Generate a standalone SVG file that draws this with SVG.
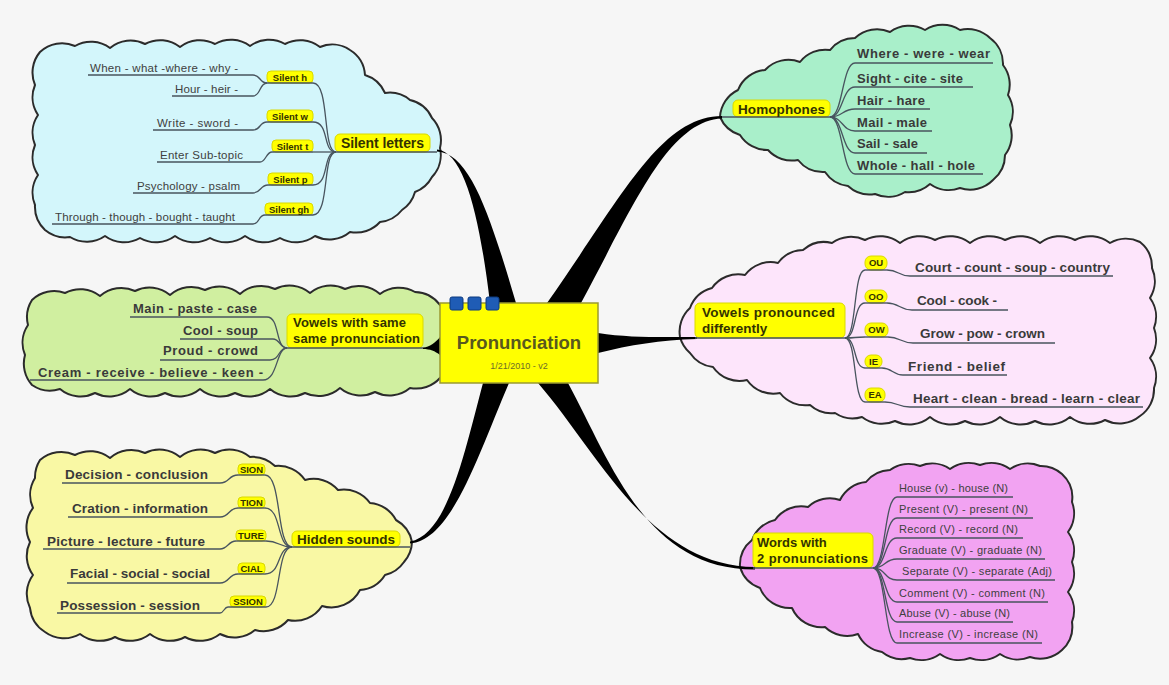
<svg xmlns="http://www.w3.org/2000/svg" width="1169" height="685" viewBox="0 0 1169 685">
<style>
text{font-family:"Liberation Sans",Arial,sans-serif}
.cloud{stroke:#2b2b2b;stroke-width:2;stroke-linejoin:round}
.wedge{fill:#000}
.cn{fill:none;stroke:#48545e;stroke-width:1.3}
.ul{fill:none;stroke:#48545e;stroke-width:1.4}
.hl{fill:#ffff00;stroke:#d9d900;stroke-width:1}
.ht{fill:#333300;font-weight:bold}
.sub{fill:#333300;font-weight:bold;font-size:9.5px;text-anchor:middle}
.lf{fill:#404040}
.lb{fill:#3a3a3a;font-weight:bold}
</style>
<rect x="0" y="0" width="1169" height="685" fill="#f6f6f6"/>

<g id="clouds">
<path id="cloud-silent" class="cloud" fill="#d3f6fb" d="M40,52 A32,32 0 0 1 75,46 A32,32 0 0 1 110,48 A32,32 0 0 1 145,44 A32,32 0 0 1 180,47 A32,32 0 0 1 215,44 A32,32 0 0 1 250,46 A32,32 0 0 1 285,44 A32,32 0 0 1 320,47 A32,32 0 0 1 350,50 A32,32 0 0 1 365,75 A32,32 0 0 1 385,93 A32,32 0 0 1 410,100 A32,32 0 0 1 432,118 A32,32 0 0 1 440,148 A32,32 0 0 1 432,177 A32,32 0 0 1 415,192 A32,32 0 0 1 402,210 A32,32 0 0 1 380,222 A32,32 0 0 1 350,232 A32,32 0 0 1 315,236 A32,32 0 0 1 280,238 A32,32 0 0 1 245,236 A32,32 0 0 1 210,238 A32,32 0 0 1 175,236 A32,32 0 0 1 140,238 A32,32 0 0 1 105,236 A32,32 0 0 1 70,237 A32,32 0 0 1 45,230 A32,32 0 0 1 35,205 A32,32 0 0 1 38,175 A32,32 0 0 1 35,145 A32,32 0 0 1 38,115 A32,32 0 0 1 35,85 A32,32 0 0 1 40,52 Z"/>
<path id="cloud-homophones" class="cloud" fill="#a9efca" d="M720,117 A32,32 0 0 1 738,90 A32,32 0 0 1 765,70 A32,32 0 0 1 800,62 A32,32 0 0 1 830,50 A32,32 0 0 1 855,38 A32,32 0 0 1 890,32 A32,32 0 0 1 925,30 A32,32 0 0 1 960,30 A32,32 0 0 1 990,38 A32,32 0 0 1 1003,65 A32,32 0 0 1 1008,95 A32,32 0 0 1 1010,125 A32,32 0 0 1 1005,155 A32,32 0 0 1 993,180 A32,32 0 0 1 960,188 A32,32 0 0 1 930,184 A32,32 0 0 1 905,192 A32,32 0 0 1 875,194 A32,32 0 0 1 848,186 A32,32 0 0 1 825,172 A32,32 0 0 1 798,160 A32,32 0 0 1 768,150 A32,32 0 0 1 740,135 A32,32 0 0 1 720,117 Z"/>
<path id="cloud-vowels-same" class="cloud" fill="#d0efa0" d="M32,300 A32,32 0 0 1 65,293 A32,32 0 0 1 100,296 A32,32 0 0 1 135,291 A32,32 0 0 1 170,295 A32,32 0 0 1 205,290 A32,32 0 0 1 240,294 A32,32 0 0 1 275,289 A32,32 0 0 1 310,293 A32,32 0 0 1 345,289 A32,32 0 0 1 380,294 A32,32 0 0 1 415,292 A32,32 0 0 1 440,305 A32,32 0 0 1 450,340 A32,32 0 0 1 440,378 A32,32 0 0 1 410,388 A32,32 0 0 1 375,392 A32,32 0 0 1 340,388 A32,32 0 0 1 305,393 A32,32 0 0 1 270,389 A32,32 0 0 1 235,393 A32,32 0 0 1 200,389 A32,32 0 0 1 165,393 A32,32 0 0 1 130,389 A32,32 0 0 1 95,393 A32,32 0 0 1 60,389 A32,32 0 0 1 32,385 A32,32 0 0 1 25,355 A32,32 0 0 1 28,325 A32,32 0 0 1 32,300 Z"/>
<path id="cloud-hidden" class="cloud" fill="#f9f8a4" d="M40,460 A32,32 0 0 1 75,455 A32,32 0 0 1 110,458 A32,32 0 0 1 145,453 A32,32 0 0 1 180,457 A32,32 0 0 1 215,453 A32,32 0 0 1 250,457 A32,32 0 0 1 275,466 A32,32 0 0 1 305,480 A32,32 0 0 1 338,490 A32,32 0 0 1 370,503 A32,32 0 0 1 396,520 A32,32 0 0 1 412,542 A32,32 0 0 1 404,562 A32,32 0 0 1 385,575 A32,32 0 0 1 360,590 A32,32 0 0 1 322,606 A32,32 0 0 1 288,620 A32,32 0 0 1 255,630 A32,32 0 0 1 220,634 A32,32 0 0 1 185,637 A32,32 0 0 1 150,634 A32,32 0 0 1 115,637 A32,32 0 0 1 80,634 A32,32 0 0 1 45,632 A32,32 0 0 1 30,608 A32,32 0 0 1 33,575 A32,32 0 0 1 30,542 A32,32 0 0 1 33,508 A32,32 0 0 1 35,478 A32,32 0 0 1 40,460 Z"/>
<path id="cloud-vowels-diff" class="cloud" fill="#fde5fb" d="M680,337 A32,32 0 0 1 690,308 A32,32 0 0 1 712,288 A32,32 0 0 1 745,275 A32,32 0 0 1 778,263 A32,32 0 0 1 803,250 A32,32 0 0 1 832,243 A32,32 0 0 1 865,240 A32,32 0 0 1 900,243 A32,32 0 0 1 935,240 A32,32 0 0 1 970,243 A32,32 0 0 1 1005,240 A32,32 0 0 1 1040,243 A32,32 0 0 1 1075,240 A32,32 0 0 1 1110,243 A32,32 0 0 1 1140,242 A32,32 0 0 1 1152,268 A32,32 0 0 1 1150,298 A32,32 0 0 1 1154,328 A32,32 0 0 1 1150,358 A32,32 0 0 1 1154,388 A32,32 0 0 1 1140,416 A32,32 0 0 1 1105,420 A32,32 0 0 1 1070,417 A32,32 0 0 1 1035,421 A32,32 0 0 1 1000,417 A32,32 0 0 1 965,421 A32,32 0 0 1 930,417 A32,32 0 0 1 895,421 A32,32 0 0 1 862,417 A32,32 0 0 1 835,413 A32,32 0 0 1 810,405 A32,32 0 0 1 780,393 A32,32 0 0 1 747,380 A32,32 0 0 1 713,367 A32,32 0 0 1 690,353 A32,32 0 0 1 680,337 Z"/>
<path id="cloud-words" class="cloud" fill="#f2a3f2" d="M740,567 A32,32 0 0 1 752,540 A32,32 0 0 1 775,520 A32,32 0 0 1 808,507 A32,32 0 0 1 840,500 A32,32 0 0 1 866,482 A32,32 0 0 1 890,470 A32,32 0 0 1 920,466 A32,32 0 0 1 950,469 A32,32 0 0 1 980,465 A32,32 0 0 1 1010,469 A32,32 0 0 1 1040,466 A32,32 0 0 1 1062,474 A32,32 0 0 1 1072,502 A32,32 0 0 1 1068,532 A32,32 0 0 1 1072,562 A32,32 0 0 1 1068,592 A32,32 0 0 1 1072,622 A32,32 0 0 1 1062,650 A32,32 0 0 1 1030,657 A32,32 0 0 1 1000,654 A32,32 0 0 1 970,658 A32,32 0 0 1 940,654 A32,32 0 0 1 910,658 A32,32 0 0 1 882,652 A32,32 0 0 1 858,634 A32,32 0 0 1 825,627 A32,32 0 0 1 792,608 A32,32 0 0 1 760,588 A32,32 0 0 1 740,567 Z"/>
</g>

<g id="connectors">
<path class="wedge" d="M437,149.5 C465,152 480,220 490,303 L516,303 C490,215 470,153 437,151.5 Z"/>
<path class="wedge" d="M547,303 C620,200 660,116 722,116 L722,118.5 C668,121 634,205 581,303 Z"/>
<path class="wedge" d="M598,333 C630,338 660,337 697,337 L697,339 C660,340 630,345 598,353 Z"/>
<path class="wedge" d="M483,383 C465,450 448,535 410,541.5 L410,543.5 C452,540 478,455 509,383 Z"/>
<path class="wedge" d="M538,383 C600,455 650,566 755,567 L755,569.5 C645,570 610,460 568,383 Z"/>
<path class="wedge" d="M440,337 C435,343 430,347 423,347.5 L423,349 C430,349 435,351 440,355 Z"/>
<g class="cn">
<path d="M313,83 C330,83 322,152 336,152"/>
<path d="M313,122 C330,122 322,152 336,152"/>
<path d="M313,152 L336,152"/>
<path d="M313,185 C330,185 322,152 336,152"/>
<path d="M313,215 C330,215 322,152 336,152"/>
<path d="M253,75 C261,75 259,83 267,83"/>
<path d="M253,96 C261,96 259,83 267,83"/>
<path d="M253,130 C261,130 259,122 267,122"/>
<path d="M260,162 C266,162 266,152 272,152"/>
<path d="M253,193 C261,193 260,185 268,185"/>
<path d="M253,224 C260,224 258,215 265,215"/>
<path d="M830,117 C843,117 842,63 855,63"/>
<path d="M830,117 C843,117 842,87 855,87"/>
<path d="M830,117 C843,117 842,109 855,109"/>
<path d="M830,117 C843,117 842,131 855,131"/>
<path d="M830,117 C843,117 842,153 855,153"/>
<path d="M830,117 C843,117 842,174 855,174"/>
<path d="M267,317 C280,317 275,348 287,348"/>
<path d="M273,339 C280,339 280,348 287,348"/>
<path d="M270,360 C280,360 278,348 287,348"/>
<path d="M263,380 C278,380 276,348 287,348"/>
<path d="M265,475 C282,475 276,547 292,547"/>
<path d="M265,508 C282,508 276,547 292,547"/>
<path d="M266,541 C280,541 278,547 292,547"/>
<path d="M265,574 C282,574 276,547 292,547"/>
<path d="M266,607 C282,607 276,547 292,547"/>
<path d="M220,483 C230,483 228,475 238,475"/>
<path d="M220,517 C230,517 228,508 238,508"/>
<path d="M220,549 C228,549 228,541 236,541"/>
<path d="M220,583 C230,583 228,574 238,574"/>
<path d="M220,613 C224,613 224,607 228,607"/>
<path d="M845,338 C857,338 853,270 865,270"/>
<path d="M845,338 C857,338 853,303 865,303"/>
<path d="M845,338 C857,338 853,337 865,337"/>
<path d="M845,338 C857,338 853,368 865,368"/>
<path d="M845,338 C857,338 853,402 865,402"/>
<path d="M887,270 C899,270 898,276 910,276"/>
<path d="M887,303 C899,303 900,310 912,310"/>
<path d="M888,337 C900,337 901,343 913,343"/>
<path d="M882,368 C892,368 893,375 903,375"/>
<path d="M885,402 C897,402 898,407 910,407"/>
<path d="M873,568 C886,568 884,497 897,497"/>
<path d="M873,568 C886,568 884,518 897,518"/>
<path d="M873,568 C886,568 884,538 897,538"/>
<path d="M873,568 C886,568 884,559 897,559"/>
<path d="M873,568 C886,568 884,580 897,580"/>
<path d="M873,568 C886,568 884,602 897,602"/>
<path d="M873,568 C886,568 884,622 897,622"/>
<path d="M873,568 C886,568 884,643 897,643"/>
</g>
</g>

<g id="node-silent-letters">
<rect class="hl" x="335" y="134" width="95" height="18" rx="5"/>
<path class="ul" d="M335,152 H437"/>
<text class="ht" x="382.5" y="148" font-size="14" text-anchor="middle" textLength="83">Silent letters</text>
</g>
<g id="node-silent-h">
<rect class="hl" x="267" y="71" width="46" height="12" rx="4"/><path class="ul" d="M267,83 H313"/>
<text class="sub" x="290" y="80.5">Silent h</text>
</g>
<g id="node-silent-w">
<rect class="hl" x="267" y="110" width="46" height="12" rx="4"/><path class="ul" d="M267,122 H313"/>
<text class="sub" x="290" y="119.5">Silent w</text>
</g>
<g id="node-silent-t">
<rect class="hl" x="272" y="140" width="41" height="12" rx="4"/><path class="ul" d="M272,152 H313"/>
<text class="sub" x="292.5" y="149.5">Silent t</text>
</g>
<g id="node-silent-p">
<rect class="hl" x="268" y="173" width="45" height="12" rx="4"/><path class="ul" d="M268,185 H313"/>
<text class="sub" x="290.5" y="182.5">Silent p</text>
</g>
<g id="node-silent-gh">
<rect class="hl" x="265" y="203" width="48" height="12" rx="4"/><path class="ul" d="M265,215 H313"/>
<text class="sub" x="289" y="212.5">Silent gh</text>
</g>
<g id="leaves-silent">
<path class="ul" d="M88,75 H253 M172,96 H253 M153,130 H253 M157,162 H260 M133,193 H253 M52,224 H253"/>
<text class="lf" font-size="11.5" x="90" y="72" textLength="148">When - what -where - why -</text>
<text class="lf" font-size="11.5" x="175" y="93" textLength="63">Hour - heir -</text>
<text class="lf" font-size="11.5" x="157" y="127" textLength="81">Write - sword -</text>
<text class="lf" font-size="11.5" x="160" y="159" textLength="83">Enter Sub-topic</text>
<text class="lf" font-size="11.5" x="137" y="190" textLength="103">Psychology - psalm</text>
<text class="lf" font-size="11.5" x="55" y="221" textLength="180">Through - though - bought - taught</text>
</g>

<g id="node-homophones">
<rect class="hl" x="733" y="100" width="97" height="17" rx="5"/>
<path class="ul" d="M722,117 H830"/>
<text class="ht" x="781.5" y="113.5" font-size="13.5" text-anchor="middle" textLength="87">Homophones</text>
</g>
<g id="leaves-homophones">
<path class="ul" d="M855,63 H993 M855,87 H973 M855,109 H930 M855,131 H932 M855,153 H927 M855,174 H983"/>
<text class="lb" font-size="13" x="857" y="58" textLength="133">Where - were - wear</text>
<text class="lb" font-size="13" x="857" y="83" textLength="106">Sight - cite - site</text>
<text class="lb" font-size="13" x="857" y="105" textLength="68">Hair - hare</text>
<text class="lb" font-size="13" x="857" y="127" textLength="70">Mail - male</text>
<text class="lb" font-size="13" x="857" y="148" textLength="61">Sail - sale</text>
<text class="lb" font-size="13" x="857" y="170" textLength="118">Whole - hall - hole</text>
</g>

<g id="node-vowels-same">
<rect class="hl" x="287" y="314" width="136" height="34" rx="5"/>
<path class="ul" d="M287,348 H423"/>
<text class="ht" x="293" y="327" font-size="13" textLength="113">Vowels with same</text>
<text class="ht" x="293" y="343" font-size="13" textLength="127">same pronunciation</text>
</g>
<g id="leaves-vowels-same">
<path class="ul" d="M130,317 H267 M180,339 H273 M160,360 H270 M30,380 H263"/>
<text class="lb" font-size="13" x="133" y="313" textLength="124">Main - paste - case</text>
<text class="lb" font-size="13" x="183" y="335" textLength="75">Cool - soup</text>
<text class="lb" font-size="13" x="163" y="355" textLength="95">Proud - crowd</text>
<text class="lb" font-size="13" x="38" y="377" textLength="225">Cream - receive - believe - keen -</text>
</g>

<g id="node-hidden-sounds">
<rect class="hl" x="292" y="531" width="108" height="16" rx="5"/>
<path class="ul" d="M292,547 H410"/>
<text class="ht" x="346" y="544" font-size="13.5" text-anchor="middle" textLength="98">Hidden sounds</text>
</g>
<g id="node-sion"><rect class="hl" x="238" y="464" width="27" height="11" rx="4"/><path class="ul" d="M238,475 H265"/><text class="sub" font-size="9" x="251.5" y="472.5">SION</text></g>
<g id="node-tion"><rect class="hl" x="238" y="497" width="27" height="11" rx="4"/><path class="ul" d="M238,508 H265"/><text class="sub" font-size="9" x="251.5" y="505.5">TION</text></g>
<g id="node-ture"><rect class="hl" x="236" y="530" width="30" height="11" rx="4"/><path class="ul" d="M236,541 H266"/><text class="sub" font-size="9" x="251" y="538.5">TURE</text></g>
<g id="node-cial"><rect class="hl" x="238" y="563" width="27" height="11" rx="4"/><path class="ul" d="M238,574 H265"/><text class="sub" font-size="9" x="251.5" y="571.5">CIAL</text></g>
<g id="node-ssion"><rect class="hl" x="230" y="596" width="36" height="11" rx="4"/><path class="ul" d="M228,607 H266"/><text class="sub" font-size="9" x="248" y="604.5">SSION</text></g>
<g id="leaves-hidden">
<path class="ul" d="M62,483 H220 M68,517 H220 M43,549 H220 M67,583 H220 M57,613 H220"/>
<text class="lb" font-size="13.5" x="65" y="479" textLength="143">Decision - conclusion</text>
<text class="lb" font-size="13.5" x="72" y="513" textLength="136">Cration - information</text>
<text class="lb" font-size="13.5" x="47" y="546" textLength="158">Picture - lecture - future</text>
<text class="lb" font-size="13.5" x="70" y="578" textLength="140">Facial - social - social</text>
<text class="lb" font-size="13.5" x="60" y="610" textLength="140">Possession - session</text>
</g>

<g id="node-vowels-diff">
<rect class="hl" x="695" y="303" width="150" height="35" rx="5"/>
<path class="ul" d="M695,338 H845"/>
<text class="ht" x="702" y="317" font-size="13.5" textLength="133">Vowels pronounced</text>
<text class="ht" x="702" y="333" font-size="13.5">differently</text>
</g>
<g id="node-ou"><rect class="hl" x="865" y="256" width="22" height="14" rx="6"/><path class="ul" d="M865,270 H887"/><text class="sub" font-size="9" x="876" y="266">OU</text></g>
<g id="node-oo"><rect class="hl" x="865" y="290" width="22" height="13" rx="6"/><path class="ul" d="M865,303 H887"/><text class="sub" font-size="9" x="876" y="299.5">OO</text></g>
<g id="node-ow"><rect class="hl" x="865" y="323" width="23" height="14" rx="6"/><path class="ul" d="M865,337 H888"/><text class="sub" font-size="9" x="876.5" y="333">OW</text></g>
<g id="node-ie"><rect class="hl" x="865" y="355" width="17" height="13" rx="6"/><path class="ul" d="M865,368 H882"/><text class="sub" font-size="9" x="873.5" y="364.5">IE</text></g>
<g id="node-ea"><rect class="hl" x="865" y="388" width="20" height="14" rx="6"/><path class="ul" d="M865,402 H885"/><text class="sub" font-size="9" x="875" y="398">EA</text></g>
<g id="leaves-vowels-diff">
<path class="ul" d="M910,276 H1113 M912,310 H1008 M913,343 H1055 M903,375 H1007 M910,407 H1143"/>
<text class="lb" font-size="13.5" x="915" y="272" textLength="195">Court - count - soup - country</text>
<text class="lb" font-size="13.5" x="917" y="305" textLength="80">Cool - cook -</text>
<text class="lb" font-size="13.5" x="920" y="338" textLength="125">Grow - pow - crown</text>
<text class="lb" font-size="13.5" x="908" y="371" textLength="97">Friend - belief</text>
<text class="lb" font-size="13.5" x="913" y="403" textLength="227">Heart - clean - bread - learn - clear</text>
</g>

<g id="node-words">
<rect class="hl" x="753" y="533" width="120" height="35" rx="5"/>
<path class="ul" d="M753,568 H873"/>
<text class="ht" x="757" y="547" font-size="13">Words with</text>
<text class="ht" x="757" y="563" font-size="13" textLength="111">2 pronunciations</text>
</g>
<g id="leaves-words">
<path class="ul" d="M897,497 H1013 M897,518 H1033 M897,538 H1023 M897,559 H1045 M897,580 H1055 M897,602 H1048 M897,622 H1013 M897,643 H1042"/>
<text class="lf" font-size="11" x="899" y="492" textLength="109">House (v) - house (N)</text>
<text class="lf" font-size="11" x="899" y="513" textLength="129">Present (V) - present (N)</text>
<text class="lf" font-size="11" x="899" y="533" textLength="119">Record (V) - record (N)</text>
<text class="lf" font-size="11" x="899" y="554" textLength="143">Graduate (V) - graduate (N)</text>
<text class="lf" font-size="11" x="902" y="575" textLength="150">Separate (V) - separate (Adj)</text>
<text class="lf" font-size="11" x="899" y="597" textLength="146">Comment (V) - comment (N)</text>
<text class="lf" font-size="11" x="899" y="617" textLength="111">Abuse (V) - abuse (N)</text>
<text class="lf" font-size="11" x="899" y="638" textLength="139">Increase (V) - increase (N)</text>
</g>

<g id="node-central">
<rect x="440" y="303" width="158" height="80" fill="#ffff00" stroke="#9a9a30" stroke-width="1.5"/>
<rect x="450" y="297" width="13" height="13" rx="2" fill="#1f5cb5" stroke="#0d3b80"/>
<rect x="468" y="297" width="13" height="13" rx="2" fill="#1f5cb5" stroke="#0d3b80"/>
<rect x="486" y="297" width="13" height="13" rx="2" fill="#1f5cb5" stroke="#0d3b80"/>
<text x="519" y="349" font-size="18.5" font-weight="bold" fill="#58581e" text-anchor="middle">Pronunciation</text>
<text x="519" y="369" font-size="9" fill="#6e6e28" text-anchor="middle">1/21/2010 - v2</text>
</g>
</svg>
